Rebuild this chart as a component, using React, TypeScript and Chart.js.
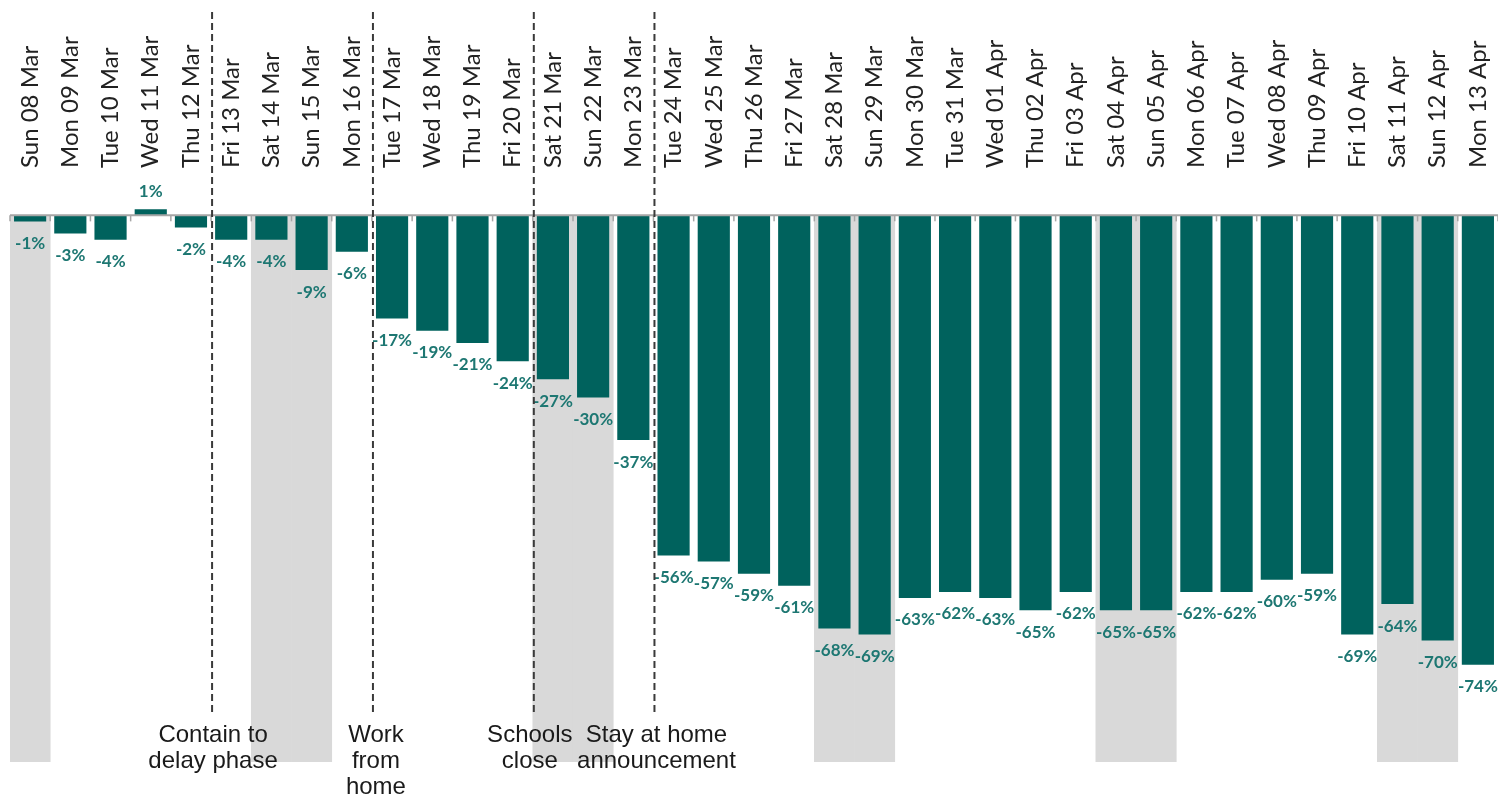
import React, { useEffect, useRef } from "react";
import { Chart, registerables } from "chart.js";

Chart.register(...registerables);

const categories = [
  "Sun 08 Mar", "Mon 09 Mar", "Tue 10 Mar", "Wed 11 Mar", "Thu 12 Mar", "Fri 13 Mar",
  "Sat 14 Mar", "Sun 15 Mar", "Mon 16 Mar", "Tue 17 Mar", "Wed 18 Mar", "Thu 19 Mar",
  "Fri 20 Mar", "Sat 21 Mar", "Sun 22 Mar", "Mon 23 Mar", "Tue 24 Mar", "Wed 25 Mar",
  "Thu 26 Mar", "Fri 27 Mar", "Sat 28 Mar", "Sun 29 Mar", "Mon 30 Mar", "Tue 31 Mar",
  "Wed 01 Apr", "Thu 02 Apr", "Fri 03 Apr", "Sat 04 Apr", "Sun 05 Apr", "Mon 06 Apr",
  "Tue 07 Apr", "Wed 08 Apr", "Thu 09 Apr", "Fri 10 Apr", "Sat 11 Apr", "Sun 12 Apr",
  "Mon 13 Apr",
];

const values = [
  -1, -3, -4, 1, -2, -4, -4, -9, -6, -17, -19, -21, -24, -27, -30, -37, -56, -57,
  -59, -61, -68, -69, -63, -62, -63, -65, -62, -65, -65, -62, -62, -60, -59, -69,
  -64, -70, -74,
];

const weekendCategories = [
  "Sun 08 Mar", "Sat 14 Mar", "Sun 15 Mar", "Sat 21 Mar", "Sun 22 Mar", "Sat 28 Mar",
  "Sun 29 Mar", "Sat 04 Apr", "Sun 05 Apr", "Sat 11 Apr", "Sun 12 Apr",
];
const weekendBandValue = -90;

// events start at these categories (dashed line drawn before them)
const eventStarts = ["Fri 13 Mar", "Tue 17 Mar", "Sat 21 Mar", "Tue 24 Mar"];
const eventLabels = [
  ["Contain to", "delay phase"],
  ["Work", "from", "home"],
  ["Schools", "close"],
  ["Stay at home", "announcement"],
];

const BAR_COLOR = "#00625d";
const LABEL_COLOR = "#1d7772";
const BAND_COLOR = "#d9d9d9";
const TICK_FONT_SIZE = 24;

const overlayPlugin = {
  id: "overlay",
  afterDatasetsDraw(chart: any) {
    const ctx = chart.ctx;
    const xs = chart.scales.x;
    const ys = chart.scales.y;
    const area = chart.chartArea;
    const zeroY = ys.getPixelForValue(0);
    const n = categories.length;
    const step = n > 1 ? xs.getPixelForValue(1) - xs.getPixelForValue(0) : 40;

    ctx.save();
    // zero line
    ctx.strokeStyle = "#a6a6a6";
    ctx.lineWidth = 2;
    ctx.beginPath();
    ctx.moveTo(area.left, zeroY);
    ctx.lineTo(area.right, zeroY);
    ctx.stroke();
    // boundary ticks
    ctx.lineWidth = 1.5;
    for (let i = 0; i <= n; i++) {
      const bx = xs.getPixelForValue(0) + (i - 0.5) * step;
      ctx.beginPath();
      ctx.moveTo(bx, zeroY);
      ctx.lineTo(bx, zeroY + 6);
      ctx.stroke();
    }

    // data labels
    const meta = chart.getDatasetMeta(1);
    ctx.fillStyle = LABEL_COLOR;
    ctx.font = "bold 17px Lato";
    ctx.textAlign = "center";
    ctx.textBaseline = "middle";
    meta.data.forEach((el: any, i: number) => {
      const v = values[i];
      const txt = `${v}%`;
      const y = v < 0 ? el.y + 22 : el.y - 18;
      ctx.fillText(txt, el.x, y);
    });

    // dashed event lines + labels
    const labelShift = [1, 3, -4, 2];
    eventStarts.forEach((cat, k) => {
      const idx = categories.indexOf(cat);
      const bx = xs.getPixelForValue(idx) - step / 2 + 1;
      ctx.strokeStyle = "#3a3a3a";
      ctx.lineWidth = 2;
      ctx.setLineDash([7, 4]);
      ctx.beginPath();
      ctx.moveTo(bx, 12);
      ctx.lineTo(bx, 712);
      ctx.stroke();
      ctx.setLineDash([]);

      ctx.fillStyle = "#1a1a1a";
      ctx.font = "24px 'Liberation Sans'";
      ctx.textAlign = "center";
      ctx.textBaseline = "alphabetic";
      eventLabels[k].forEach((line, j) => {
        ctx.fillText(line, bx + labelShift[k], 742 + j * 26);
      });
    });
    ctx.restore();
  },
};

export default function App() {
  const canvasRef = useRef<HTMLCanvasElement | null>(null);

  useEffect(() => {
    if (!canvasRef.current) return;
    const bandData = categories.map((c) =>
      weekendCategories.includes(c) ? weekendBandValue : null
    );
    const chart = new Chart(canvasRef.current, {
      type: "bar",
      data: {
        labels: categories,
        datasets: [
          {
            label: "Weekend",
            data: bandData,
            backgroundColor: BAND_COLOR,
            barPercentage: 1,
            categoryPercentage: 1,
            grouped: false,
            order: 2,
          },
          {
            label: "Change",
            data: values,
            backgroundColor: BAR_COLOR,
            barPercentage: 0.8,
            categoryPercentage: 1,
            grouped: false,
            order: 1,
          },
        ],
      },
      options: {
        responsive: false,
        animation: false,
        layout: { padding: { left: 10, right: 0, top: 0, bottom: 36 } },
        plugins: {
          legend: { display: false },
          tooltip: { enabled: false },
        },
        scales: {
          x: {
            position: "top",
            offset: true,
            grid: { display: false, drawTicks: false },
            border: { display: false },
            ticks: {
              autoSkip: false,
              minRotation: 90,
              maxRotation: 90,
              padding: 17,
              labelOffset: TICK_FONT_SIZE * 1.2,
              color: "#222222",
              font: { family: "Lato", size: TICK_FONT_SIZE },
            },
            afterFit(scale: any) {
              scale.height = 185;
              scale.paddingLeft = 0;
              scale.paddingRight = 0;
            },
          },
          y: {
            display: false,
            min: -90,
            max: 5,
          },
        },
      },
      plugins: [overlayPlugin],
    });
    return () => chart.destroy();
  }, []);

  return (
    <div style={{ position: "fixed", left: 0, top: 0, width: 1498, height: 798, background: "#fff" }}>
      <canvas ref={canvasRef} width={1498} height={798} style={{ display: "block" }} />
    </div>
  );
}
